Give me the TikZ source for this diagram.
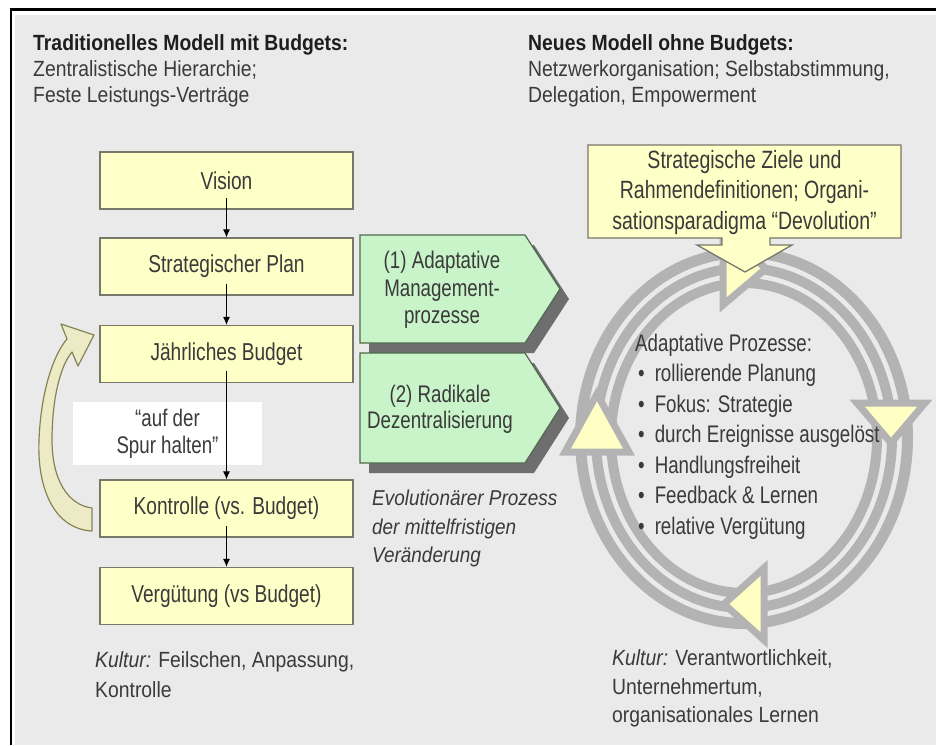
\documentclass[tikz,border=0pt]{standalone}
\usepackage{fontspec}
\setmainfont{Liberation Sans}[FakeStretch=0.88]
\newfontfamily\narrowfont{Liberation Sans}[FakeStretch=0.78]
\usetikzlibrary{arrows.meta}
\definecolor{bg}{HTML}{EAEAEA}
\definecolor{boxfill}{HTML}{FFFFC8}
\definecolor{boxline}{HTML}{77776A}
\definecolor{txt}{HTML}{3A3A3A}
\definecolor{titletxt}{HTML}{1E1E1E}
\definecolor{ringgray}{HTML}{B3B3B3}
\definecolor{triyellow}{HTML}{FFFFC4}
\definecolor{chevfill}{HTML}{C9F3C9}
\definecolor{chevline}{HTML}{4F6A4F}
\definecolor{shadowgray}{HTML}{6E6E6E}
\definecolor{curvefill}{HTML}{EDEBC6}
\definecolor{curveline}{HTML}{858356}
\newcommand\myfs[2]{\fontsize{#1pt}{#2pt}\selectfont}
\begin{document}
\begin{tikzpicture}[x=1pt,y=-1pt,
  ybox/.style={draw=boxline, line width=1.3pt, fill=boxfill, minimum width=253pt, minimum height=57pt, inner sep=0pt, font=\narrowfont\myfs{24.5}{28}, text=txt},
  conn/.style={line width=0.9pt, -{Latex[length=8pt,width=7pt]}},
  ringband/.style={draw=ringgray},
  ringtri/.style={draw=ringgray, line width=7pt, line join=miter, fill=triyellow},
  chev/.style={draw=chevline, line width=1.2pt, fill=chevfill},
  chevshadow/.style={fill=shadowgray},
  txtnode/.style={inner sep=0pt, text=txt, font=\myfs{22}{26}},
]
\useasboundingbox (0,0) rectangle (936,745);
% background and frame
\fill[white] (0,0) rectangle (936,745);
\fill[bg] (15,15) rectangle (936,745);
\draw[line width=3pt] (9.5,9.5) -- (936,9.5);
\draw[line width=2.6pt] (11,8) -- (11,745);

% titles
\node[txtnode, anchor=west, align=left] (lefttitle) at (33,71)
  {\textcolor{titletxt}{\textbf{Traditionelles Modell mit Budgets:}}\\Zentralistische Hierarchie;\\Feste Leistungs-Verträge};
\node[txtnode, anchor=west, align=left] (righttitle) at (528,71)
  {\textcolor{titletxt}{\textbf{Neues Modell ohne Budgets:}}\\Netzwerkorganisation; Selbstabstimmung,\\Delegation, Empowerment};

% curved feedback arrow
\draw[fill=curvefill, draw=curveline, line width=1.2pt, line join=round]
  (92,531) .. controls (55,529) and (37,490) .. (39,440)
  .. controls (41,390) and (54,354) .. (67,339)
  -- (61,324) -- (94,335) -- (78,366) -- (72,352)
  .. controls (60,366) and (52,400) .. (52,440)
  .. controls (52,480) and (68,505) .. (92,508) -- cycle;

% left column boxes
\node[ybox] (vision) at (226.5,180.5) {Vision};
\node[ybox] (strat) at (226.5,266.5) {Strategischer Plan};
\node[ybox] (budget) at (226.5,354) {Jährliches Budget};
\node[fill=white, minimum width=189pt, minimum height=63pt, inner sep=0pt, align=center, font=\narrowfont\myfs{24}{27}, text=txt] (spur) at (167.5,433.5) {“auf der\\Spur halten”};
\node[ybox] (kontrolle) at (226.5,508.5) {Kontrolle (vs. Budget)};
\node[ybox] (verg) at (226.5,596) {Vergütung (vs Budget)};

\draw[conn] ([yshift=-17pt]vision.center) -- (strat.north);
\draw[conn] ([yshift=-17pt]strat.center) -- (budget.north);
\draw[conn] ([yshift=-17pt]budget.center) -- (kontrolle.north);
\draw[conn] ([yshift=-17pt]kontrolle.center) -- (verg.north);

\node[txtnode, anchor=west, align=left, font=\myfs{22}{30}] (kulturl) at (95,675)
  {\textit{Kultur:} Feilschen, Anpassung,\\Kontrolle};

% chevrons
\fill[chevshadow] (369,245) -- (534,245) -- (569,299) -- (534,353) -- (369,353) -- cycle;
\draw[chev] (360,235) -- (525,235) -- (560,289) -- (525,343) -- (360,343) -- cycle;
\fill[chevshadow] (369,363) -- (534,363) -- (569,418) -- (534,473) -- (369,473) -- cycle;
\draw[chev] (360,353) -- (525,353) -- (560,408) -- (525,463) -- (360,463) -- cycle;
\node[txtnode, align=center, font=\narrowfont\myfs{24}{27.5}] (adapt) at (442,290)
  {(1) Adaptative\\Management-\\prozesse};
\node[txtnode, align=center, font=\narrowfont\myfs{24}{25.5}] (dezent) at (440,409.5)
  {(2) Radikale\\Dezentralisierung};
\node[txtnode, anchor=west, align=left, font=\myfs{21.5}{28.5}\itshape] (evol) at (372,528.5)
  {Evolutionärer Prozess\\der mittelfristigen\\Veränderung};

% ring
\draw[ringband, line width=11pt] (744,438) ellipse [x radius=163.5, y radius=185.5];
\draw[ringband, line width=10pt] (744,438) ellipse [x radius=148, y radius=170];
\draw[ringband, line width=10pt] (744,438) ellipse [x radius=133, y radius=155];
\draw[ringtri] (723,232) -- (723,305) -- (766,268.5) -- cycle;
\draw[ringtri] (857,403) -- (925,403) -- (891,443) -- cycle;
\draw[ringtri] (764,568) -- (764,640) -- (724,604) -- cycle;
\draw[ringtri] (565,452) -- (629,452) -- (597,394) -- cycle;

% callout box
\draw[draw=boxline, line width=1.3pt, fill=boxfill, line join=miter]
  (588,145) -- (901,145) -- (901,238) -- (770,238) -- (770,245) -- (792,245)
  -- (745,272) -- (697,245) -- (722,245) -- (722,238) -- (588,238) -- cycle;
\node[txtnode, align=center, font=\narrowfont\myfs{25}{30.5}] (ziele) at (744.5,192.5)
  {Strategische Ziele und\\Rahmendefinitionen; Organi-\\sationsparadigma “Devolution”};

% list inside ring
\node[txtnode, anchor=west, align=left, font=\narrowfont\myfs{24}{30.5}] (liste) at (635,436.5)
  {Adaptative Prozesse:\\
   \hspace*{3pt}\textbullet\hspace{10pt}rollierende Planung\\
   \hspace*{3pt}\textbullet\hspace{10pt}Fokus: Strategie\\
   \hspace*{3pt}\textbullet\hspace{10pt}durch Ereignisse ausgelöst\\
   \hspace*{3pt}\textbullet\hspace{10pt}Handlungsfreiheit\\
   \hspace*{3pt}\textbullet\hspace{10pt}Feedback \& Lernen\\
   \hspace*{3pt}\textbullet\hspace{10pt}relative Vergütung};

\node[txtnode, anchor=west, align=left, font=\myfs{22}{28.5}] (kulturr) at (612,688.5)
  {\textit{Kultur:} Verantwortlichkeit,\\Unternehmertum,\\organisationales Lernen};
\end{tikzpicture}
\end{document}
